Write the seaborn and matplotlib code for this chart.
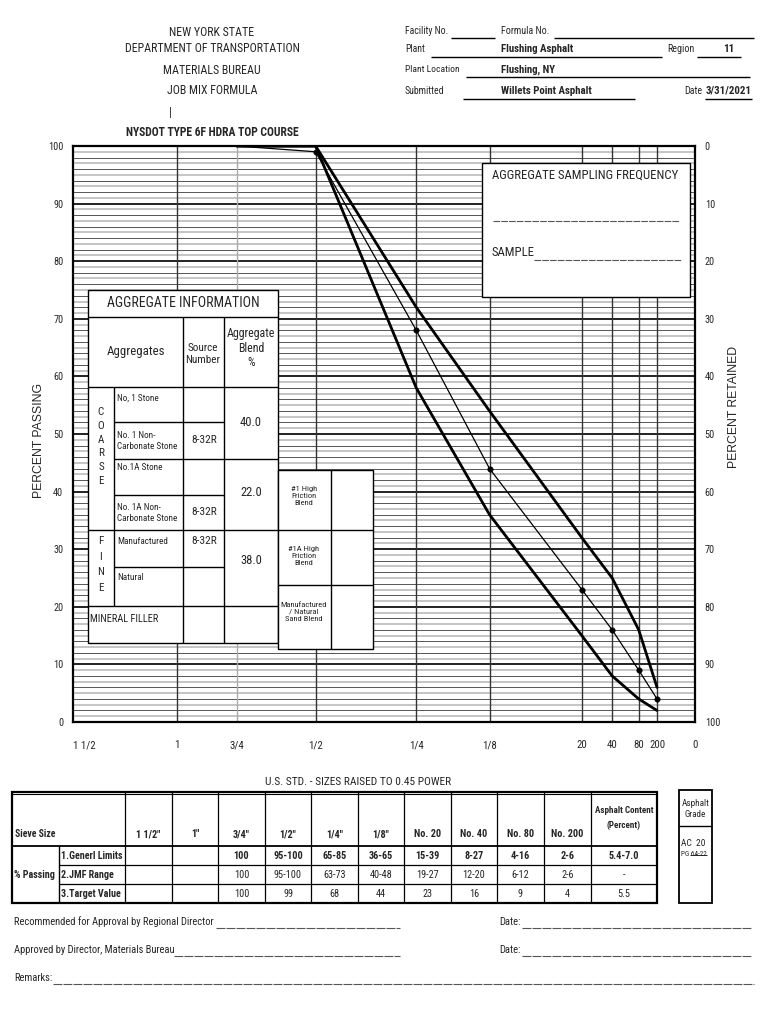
import numpy as np
import matplotlib
matplotlib.use("Agg")
import matplotlib.pyplot as plt
from matplotlib import font_manager
from matplotlib.patches import Rectangle
import seaborn as sns

# --- dados do gráfico ---
sieve_labels = ["1 1/2", "1", "3/4", "1/2", "1/4", "1/8", "20", "40", "80", "200", "0"]
sieve_mm = [37.5, 25.0, 19.0, 12.5, 6.3, 3.2, 0.85, 0.425, 0.18, 0.075, 0.0]

curve_mm = [19.0, 12.5, 6.3, 3.2, 0.85, 0.425, 0.18, 0.075]
upper_band = [100, 100, 72, 54, 32, 25, 16, 6]
lower_band = [100, 100, 58, 36, 15, 8, 4, 2]
target_value = [100, 99, 68, 44, 23, 16, 9, 4]

# --- tabela inferior ---
table_sieves = ['1 1/2"', '1"', '3/4"', '1/2"', '1/4"', '1/8"', "No. 20", "No. 40", "No. 80", "No. 200"]
general_limits = ["", "", "100", "95-100", "65-85", "36-65", "15-39", "8-27", "4-16", "2-6"]
jmf_range = ["", "", "100", "95-100", "63-73", "40-48", "19-27", "12-20", "6-12", "2-6"]
target_row = ["", ""] + [str(v) for v in target_value]
asphalt_content = ["5.4-7.0", "-", "5.5"]

# --- informação dos agregados ---
agg_names = ["No, 1 Stone", "No. 1 Non-\nCarbonate Stone", "No.1A Stone",
             "No. 1A Non-\nCarbonate Stone", "Manufactured", "Natural"]
agg_source = ["", "8-32R", "", "8-32R", "8-32R", ""]
agg_blend = ["40.0", "22.0", "38.0"]

W, H = 770, 1024
names = {f.name for f in font_manager.fontManager.ttflist}
NARROW, K = "Liberation Sans", 0.84
for cand in ["Liberation Sans Narrow", "Arial Narrow", "Roboto Condensed", "Archivo Narrow", "PT Sans Narrow"]:
    if cand in names:
        NARROW, K = cand, 1.0
        break

sns.set_style("white")
plt.rcParams["font.family"] = [NARROW, "DejaVu Sans"]

fig = plt.figure(figsize=(W / 100, H / 100), dpi=100)


def fig_rect(x0, y0, x1, y1):
    return [x0 / W, 1 - y1 / H, (x1 - x0) / W, (y1 - y0) / H]


# --- eixo principal ---
ax = fig.add_axes(fig_rect(73, 146, 695, 722))
fwd = lambda v: np.sign(v) * np.abs(v) ** 0.45
inv = lambda v: np.sign(v) * np.abs(v) ** (1 / 0.45)
ax.set_xscale("function", functions=(fwd, inv))
ax.set_xlim(37.5, 0)
ax.set_ylim(0, 100)

for v in range(1, 100):
    if v % 10 == 0:
        ax.axhline(v, color="#222222", lw=1.4, zorder=1)
    elif v % 2 == 0:
        ax.axhline(v, color="#555555", lw=0.7, zorder=1)
    else:
        ax.axhline(v, color="#b5b5b5", lw=1.1, zorder=1)
for mm in sieve_mm[1:-1]:
    ax.axvline(mm, color="#aaaaaa" if mm == 19.0 else "#333333", lw=1.0, zorder=1)

sns.lineplot(x=curve_mm, y=upper_band, ax=ax, color="black", lw=2.0, sort=False, estimator=None, zorder=3)
sns.lineplot(x=curve_mm, y=lower_band, ax=ax, color="black", lw=2.0, sort=False, estimator=None, zorder=3)
sns.lineplot(x=curve_mm, y=target_value, ax=ax, color="black", lw=0.9, sort=False, estimator=None, zorder=3)
sns.scatterplot(x=curve_mm[1:], y=target_value[1:], ax=ax, color="black", s=16, marker="o",
                edgecolor="black", zorder=4)

for sp in ax.spines.values():
    sp.set_linewidth(1.6)
    sp.set_color("black")

ax.set_xticks(sieve_mm, sieve_labels)
ax.xaxis.set_minor_locator(matplotlib.ticker.NullLocator())
ax.tick_params(axis="x", length=0, pad=13, labelsize=7.8 * K)
ax.get_xticklabels()[0].set_ha("left")
ax.set_yticks(range(0, 101, 10))
ax.tick_params(axis="y", length=0, pad=7, labelsize=7.4 * K)
ax.set_ylabel("PERCENT PASSING", family="Liberation Sans", fontsize=8.8)
ax.yaxis.set_label_coords(-(73 - 45) / 622, (722 - 440) / 576)

ax2 = ax.twinx()
ax2.set_ylim(0, 100)
ax2.set_yticks(range(0, 101, 10), [str(100 - v) for v in range(0, 101, 10)])
ax2.tick_params(axis="y", length=0, pad=7, labelsize=7.4 * K)
for sp in ax2.spines.values():
    sp.set_visible(False)
ax2.set_ylabel("PERCENT RETAINED", family="Liberation Sans", fontsize=8.8)
ax2.yaxis.set_label_coords((728 - 73) / 622, (722 - 407) / 576)

# --- camada do formulário (coordenadas em pixels) ---
oax = fig.add_axes([0, 0, 1, 1])
oax.set_xlim(0, W)
oax.set_ylim(H, 0)
oax.axis("off")
oax.patch.set_alpha(0)
oax.set_zorder(5)


def box(x0, y0, x1, y1, lw=1.0):
    oax.add_patch(Rectangle((x0, y0), x1 - x0, y1 - y0, facecolor="white", edgecolor="black", lw=lw))


def hl(x0, x1, y, lw=1.0, **kw):
    oax.plot([x0, x1], [y, y], color=kw.pop("color", "black"), lw=lw, solid_capstyle="butt", **kw)


def vl(x, y0, y1, lw=1.0):
    oax.plot([x, x], [y0, y1], color="black", lw=lw, solid_capstyle="butt")


def txt(x, y, s, size=8, ha="left", bold=False, **kw):
    oax.text(x, y, s, fontsize=size * K, ha=ha, va="center", fontweight="bold" if bold else "normal", **kw)


# cabeçalho
for s, y in [("NEW YORK STATE", 32), ("DEPARTMENT OF TRANSPORTATION", 49),
             ("MATERIALS BUREAU", 70), ("JOB MIX FORMULA", 91)]:
    txt(212, y, s, size=8.6, ha="center")
txt(170, 113, "|", size=8.5, ha="center")
txt(212, 133, "NYSDOT TYPE 6F HDRA TOP COURSE", size=8.4, ha="center", bold=True)

txt(405, 31, "Facility No.", size=7)
hl(451, 495, 38)
txt(501, 31, "Formula No.", size=7.2)
hl(554, 754, 38)
txt(405, 49, "Plant", size=7)
hl(431, 662, 57)
txt(501, 49, "Flushing Asphalt", size=7.8, bold=True)
txt(667, 49, "Region", size=7.2)
hl(697, 741, 57)
txt(729, 49, "11", size=7.8, bold=True, ha="center")
txt(405, 70, "Plant Location", size=6.8)
hl(466, 750, 77)
txt(501, 70, "Flushing, NY", size=7.8, bold=True)
txt(405, 91, "Submitted", size=7)
hl(463, 635, 99)
txt(501, 91, "Willets Point Asphalt", size=7.8, bold=True)
txt(684, 91, "Date", size=7.2)
txt(706, 91, "3/31/2021", size=7.8, bold=True)
hl(705, 752, 99)

# quadro de frequência de amostragem
box(482, 163, 690, 297)
txt(492, 175, "AGGREGATE SAMPLING FREQUENCY", size=9.2)
hl(493, 679, 221, lw=0.8, color="#555555", ls=(0, (6, 1)))
txt(492, 252, "SAMPLE", size=9.2)
hl(534, 681, 260, lw=0.8, color="#555555", ls=(0, (6, 1)))

# quadro de informação dos agregados
box(88, 290, 278, 643)
hl(88, 278, 317)
vl(183, 317, 643)
vl(224, 317, 643)
hl(88, 278, 387)
vl(114, 387, 606)
hl(114, 224, 422)
hl(114, 278, 459)
hl(114, 224, 495)
hl(88, 278, 530)
hl(114, 224, 567)
hl(88, 278, 606)
txt(183, 303, "AGGREGATE INFORMATION", size=10, ha="center")
txt(136, 351, "Aggregates", size=9.3, ha="center")
txt(203, 354, "Source\nNumber", size=8, ha="center", linespacing=1.2)
txt(251, 348, "Aggregate\nBlend\n%", size=8.6, ha="center", linespacing=1.15)
row_y = [398, 441, 468, 513, 541, 577]
for name, src, y in zip(agg_names, agg_source, row_y):
    txt(117, y, name, size=6.6, linespacing=1.3)
    if src:
        txt(204, y if "\n" not in name else y - 1, src, size=8.2, ha="center")
for val, y in zip(agg_blend, [423, 492, 561]):
    txt(251, y, val, size=9, ha="center")
for i, ch in enumerate("COARSE"):
    txt(101, 412 + i * 13.8, ch, size=8, ha="center")
for i, ch in enumerate("FINE"):
    txt(101, 541 + i * 15.7, ch, size=8, ha="center")
txt(90, 619, "MINERAL FILLER", size=7.5)

# quadro de misturas de alto atrito
box(278, 470, 373, 649)
vl(331, 470, 649)
hl(278, 373, 530)
hl(278, 373, 585)
for s, y in [("#1 High\nFriction\nBlend", 496), ("#1A High\nFriction\nBlend", 556),
             ("Manufactured\n/ Natural\nSand Blend", 612)]:
    txt(304, y, s, size=6.1, ha="center", linespacing=1.25)

# tabela inferior
txt(358, 782, "U.S. STD. - SIZES RAISED TO 0.45 POWER", size=8.2, ha="center")
col_x = [125, 172, 218, 265, 311, 358, 404, 451, 497, 544, 591, 657]
row_lines = [792, 846, 865, 884, 903]
oax.add_patch(Rectangle((12, 792), 657 - 12, 903 - 792, facecolor="white", edgecolor="black", lw=1.6))
hl(12, 657, 794, lw=0.8)
for y in row_lines[1:-1]:
    hl(59 if y != 846 else 12, 657, y, lw=1.3 if y == 846 else 0.9)
vl(59, 846, 903)
for x in col_x[:-1]:
    vl(x, 792, 903, lw=0.9)
txt(15, 834, "Sieve Size", size=7, bold=True)
for i, s in enumerate(table_sieves):
    cx = (col_x[i] + col_x[i + 1]) / 2
    txt(cx, 834, s, size=7.4, ha="center", bold=True)
    txt(cx, 856, general_limits[i], size=7.4, ha="center", bold=True)
    txt(cx, 875, jmf_range[i], size=7.4, ha="center")
    txt(cx, 894, target_row[i], size=7.4, ha="center")
ax_cx = (col_x[-2] + col_x[-1]) / 2
txt(ax_cx, 818, "Asphalt Content\n(Percent)", size=6.5, ha="center", bold=True, linespacing=1.9)
txt(ax_cx, 856, asphalt_content[0], size=7.4, ha="center", bold=True)
txt(ax_cx, 875, asphalt_content[1], size=7.4, ha="center")
txt(ax_cx, 894, asphalt_content[2], size=7.4, ha="center")
txt(14, 875, "% Passing", size=7.2, bold=True)
txt(61, 856, "1.Generl Limits", size=7.2, bold=True)
txt(61, 875, "2.JMF Range", size=7.2, bold=True)
txt(61, 894, "3.Target Value", size=7.2, bold=True)

# quadro do grau do asfalto
box(679, 790, 712, 903, lw=1.3)
hl(679, 712, 826)
txt(695.5, 809, "Asphalt\nGrade", size=6.6, ha="center", linespacing=1.25)
txt(681, 843, "AC  20", size=6.8)
txt(681, 855, "PG 64-22", size=5.2)
hl(690, 707, 855, lw=0.6)

# rodapé
dash = dict(lw=0.8, color="#555555", ls=(0, (8, 1)))
txt(14, 922, "Recommended for Approval by Regional Director", size=7.6)
hl(216, 400, 928, **dash)
txt(499, 922, "Date:", size=7.6)
hl(522, 752, 928, **dash)
txt(14, 950, "Approved by Director, Materials Bureau", size=7.6)
hl(174, 400, 956, **dash)
txt(499, 950, "Date:", size=7.6)
hl(522, 752, 956, **dash)
txt(14, 978, "Remarks:", size=7.6)
hl(53, 754, 984, **dash)

fig.savefig("out.png", dpi=100, facecolor="white")
